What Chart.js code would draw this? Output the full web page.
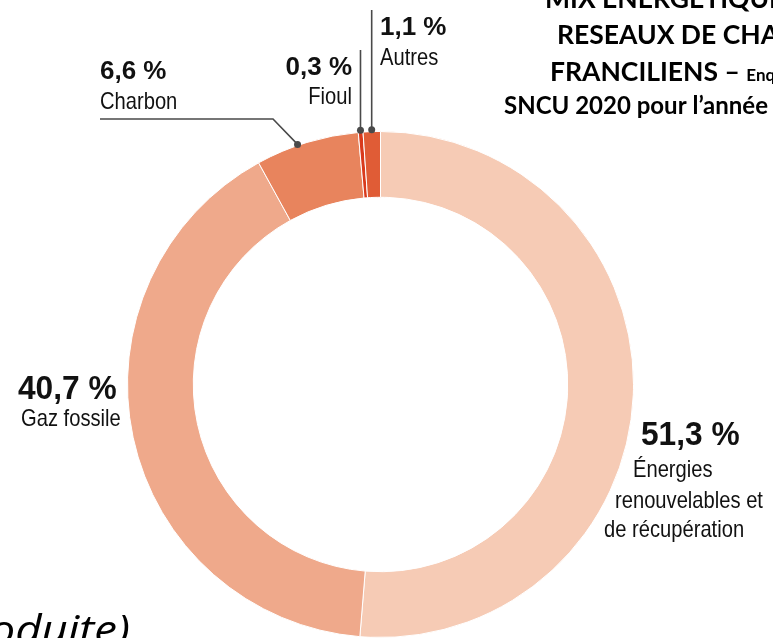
<!DOCTYPE html>
<html>
<head>
<meta charset="utf-8">
<script src="https://cdn.jsdelivr.net/npm/chart.js@4"></script>
<style>
  html, body { margin: 0; padding: 0; background: #fff; overflow: hidden; }
  #wrap { position: relative; width: 773px; height: 638px; }
</style>
</head>
<body>
<div id="wrap"><canvas id="mix" width="773" height="638"></canvas></div>
<script>
// Energy mix of the Île-de-France heat networks, donut starting at 12 o'clock.
const categories = ['Énergies renouvelables et de récupération', 'Gaz fossile', 'Charbon', 'Fioul', 'Autres'];
const shares = [51.3, 40.7, 6.6, 0.3, 1.1];
const shareLabels = ['51,3 %', '40,7 %', '6,6 %', '0,3 %', '1,1 %'];
const nameLines = [['Énergies', 'renouvelables et', 'de récupération'], ['Gaz fossile'], ['Charbon'], ['Fioul'], ['Autres']];
const sliceColors = ['#f6cbb5', '#efa98b', '#e8845d', '#d93a1c', '#e05c36'];
const titleLines = ['MIX ÉNERGÉTIQUE DES', 'RESEAUX DE CHALEUR', 'FRANCILIENS', 'SNCU 2020 pour l’année 2019'];

const SANS = "'Liberation Sans', Arial, sans-serif";
const TITLE = "Lato, 'Open Sans', sans-serif";
const LINE = '#4a4a4a';

// where each label block sits: value baseline, name baselines, x, alignment
const labelSpots = [
  { x: 641, y: 445, names: [[633, 477], [615, 508], [604, 537]], align: 'left', big: 33, sx: 0.96 },
  { x: 18, y: 399, names: [[21, 426]], align: 'left', big: 33, sx: 0.96 },
  { x: 100, y: 79, names: [[100, 109]], align: 'left', big: 26, sx: 1 },
  { x: 352, y: 75, names: [[352, 104]], align: 'right', big: 26, sx: 1 },
  { x: 380, y: 35, names: [[380, 65]], align: 'left', big: 26, sx: 1 },
];

// text stretched or squeezed horizontally
function squeezed(ctx, str, x, y, align, sx) {
  ctx.save();
  ctx.translate(x, y);
  ctx.scale(sx, 1);
  ctx.textAlign = align;
  ctx.fillText(str, 0, 0);
  ctx.restore();
}

function dot(ctx, x, y) {
  ctx.beginPath();
  ctx.arc(x, y, 3.5, 0, Math.PI * 2);
  ctx.fill();
}

const annotate = {
  id: 'annotate',
  afterDraw(chart) {
    const ctx = chart.ctx;
    const arcs = chart.getDatasetMeta(0).data;
    ctx.save();

    // leader lines
    ctx.strokeStyle = LINE;
    ctx.fillStyle = LINE;
    ctx.lineWidth = 1.6;
    const at = (arc, frac, r) => {
      const a = arc.startAngle + (arc.endAngle - arc.startAngle) * frac;
      return [arc.x + Math.cos(a) * r, arc.y + Math.sin(a) * r];
    };
    // Charbon
    const c = arcs[2];
    const [cx, cy] = at(c, 0.41, c.outerRadius + 1);
    ctx.beginPath();
    ctx.moveTo(cx, cy);
    ctx.lineTo(273, 119);
    ctx.lineTo(100, 119);
    ctx.stroke();
    dot(ctx, cx, cy);
    // Fioul and Autres go straight up
    [[3, 50], [4, 10]].forEach(([i, top]) => {
      const [x, y] = at(arcs[i], 0.5, arcs[i].outerRadius + 2);
      ctx.beginPath();
      ctx.moveTo(x, y);
      ctx.lineTo(x, top);
      ctx.stroke();
      dot(ctx, x, y);
    });

    // value + name labels
    ctx.fillStyle = '#111';
    labelSpots.forEach((s, i) => {
      ctx.font = `bold ${s.big}px ${SANS}`;
      squeezed(ctx, shareLabels[i], s.x, s.y, s.align, s.sx);
      ctx.font = `24px ${SANS}`;
      nameLines[i].forEach((t, j) => squeezed(ctx, t, s.names[j][0], s.names[j][1], s.align, 0.84));
    });

    // title block, cut by the right edge
    ctx.textAlign = 'left';
    ctx.fillStyle = '#000';
    ctx.font = `bold 26.5px ${TITLE}`;
    ctx.fillText(titleLines[0], 545, 8);
    ctx.fillText(titleLines[1], 557, 44);
    ctx.fillText(titleLines[2], 550, 81);
    let x = 550 + ctx.measureText(titleLines[2] + ' ').width;
    ctx.fillText('–', x, 81);
    x += ctx.measureText('– ').width;
    ctx.font = `bold 17px ${TITLE}`;
    ctx.fillText('Enquête', x, 81);
    ctx.font = `bold 24px ${TITLE}`;
    ctx.fillText(titleLines[3], 504, 114);

    // caption fragment at bottom left
    ctx.font = "italic 40px 'Open Sans', sans-serif";
    squeezed(ctx, '(énergie produite)', 130, 644, 'right', 1.14);
    ctx.restore();
  },
};

new Chart(document.getElementById('mix'), {
  type: 'doughnut',
  data: {
    labels: categories,
    datasets: [{
      data: shares,
      backgroundColor: sliceColors,
      borderColor: '#ffffff',
      borderWidth: 1,
    }],
  },
  options: {
    responsive: false,
    animation: false,
    cutout: '74%',
    layout: { padding: { left: 127, right: 139, top: 131, bottom: 0 } },
    plugins: { legend: { display: false }, tooltip: { enabled: false } },
  },
  plugins: [annotate],
});
</script>
</body>
</html>
